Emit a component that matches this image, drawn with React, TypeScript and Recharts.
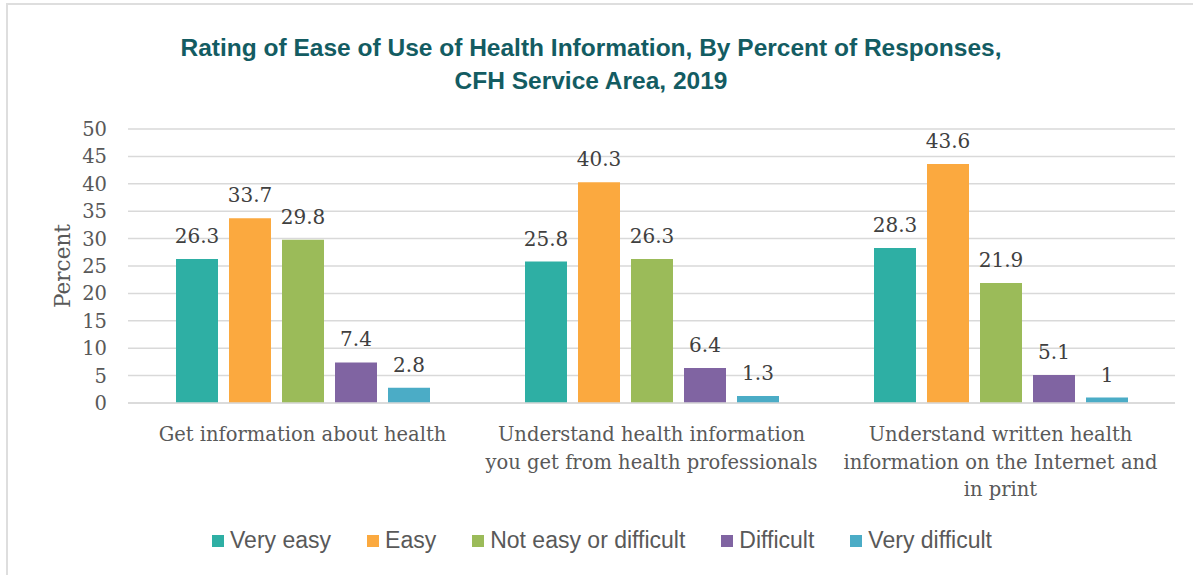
import React from "react";
import {
  BarChart,
  Bar,
  XAxis,
  YAxis,
  CartesianGrid,
  LabelList,
} from "recharts";

// categories, one entry per line of the wrapped axis label
const categoryLines: string[][] = [
  ["Get information about health"],
  ["Understand health information", "you get from health professionals"],
  ["Understand written health", "information on the Internet and", "in print"],
];
const categories = categoryLines.map((lines) => lines.join(" "));

const veryEasy = [26.3, 25.8, 28.3];
const easy = [33.7, 40.3, 43.6];
const notEasyOrDifficult = [29.8, 26.3, 21.9];
const difficult = [7.4, 6.4, 5.1];
const veryDifficult = [2.8, 1.3, 1];

const yTicks = [0, 5, 10, 15, 20, 25, 30, 35, 40, 45, 50];

const series = [
  { key: "veryEasy", name: "Very easy", color: "#2EAFA4" },
  { key: "easy", name: "Easy", color: "#FBA93F" },
  { key: "notEasy", name: "Not easy or difficult", color: "#9BBB59" },
  { key: "difficult", name: "Difficult", color: "#8064A2" },
  { key: "veryDifficult", name: "Very difficult", color: "#4BACC6" },
];

const data = categories.map((name, i) => ({
  name,
  veryEasy: veryEasy[i],
  easy: easy[i],
  notEasy: notEasyOrDifficult[i],
  difficult: difficult[i],
  veryDifficult: veryDifficult[i],
}));

const SERIF = "'DejaVu Serif', 'Liberation Serif', serif";
const SANS = "'Liberation Sans Narrow', 'Liberation Sans', sans-serif";

function CategoryTick(props: any) {
  const { x, y, payload } = props;
  const idx = categories.indexOf(payload.value);
  const lines = categoryLines[idx] || [payload.value];
  return (
    <text
      x={x}
      y={y}
      textAnchor="middle"
      fill="#595959"
      fontSize={19.5}
      fontFamily={SERIF}
    >
      {lines.map((line, i) => (
        <tspan key={i} x={x} dy={i === 0 ? 30 : 27.5}>
          {line}
        </tspan>
      ))}
    </text>
  );
}

export default function App() {
  return (
    <div
      style={{
        position: "absolute",
        left: 0,
        top: 0,
        width: 1193,
        height: 575,
        background: "#fff",
      }}
    >
      <div
        style={{
          position: "absolute",
          left: 6,
          top: 3,
          right: 0,
          bottom: 0,
          borderTop: "2px solid #dedede",
          borderLeft: "2px solid #dedede",
        }}
      />
      <div
        style={{
          position: "absolute",
          left: 0,
          top: 31,
          width: 1182,
          textAlign: "center",
          fontFamily: SANS,
          fontWeight: "bold",
          fontSize: 24.5,
          lineHeight: "33px",
          color: "#135C62",
        }}
      >
        Rating of Ease of Use of Health Information, By Percent of Responses,
        <br />
        CFH Service Area, 2019
      </div>

      <div style={{ position: "absolute", left: 0, top: 0 }}>
        <BarChart
          width={1193}
          height={575}
          data={data}
          margin={{ top: 129, right: 18, left: 68, bottom: 72 }}
          barSize={42}
          barGap={11}
        >
          <CartesianGrid
            vertical={false}
            stroke="#d9d9d9"
            strokeWidth={1.5}
          />
          <XAxis
            dataKey="name"
            height={100}
            tickLine={false}
            axisLine={{ stroke: "#d9d9d9", strokeWidth: 1.5 }}
            tick={<CategoryTick />}
            interval={0}
          />
          <YAxis
            width={60}
            domain={[0, 50]}
            ticks={yTicks}
            interval={0}
            tickLine={false}
            axisLine={false}
            tickMargin={15}
            tick={{ fill: "#595959", fontSize: 19.5, fontFamily: SERIF }}
            label={{
              content: (p: any) => {
                const vb = p.viewBox;
                const cy = vb.y + vb.height / 2;
                return (
                  <text
                    x={62}
                    y={cy}
                    transform={`rotate(-90, 62, ${cy})`}
                    textAnchor="middle"
                    dominantBaseline="central"
                    fill="#595959"
                    fontSize={21.5}
                    fontFamily={SERIF}
                  >
                    Percent
                  </text>
                );
              },
            }}
          />
          {series.map((s) => (
            <Bar
              key={s.key}
              dataKey={s.key}
              name={s.name}
              fill={s.color}
              isAnimationActive={false}
            >
              <LabelList
                dataKey={s.key}
                position="top"
                offset={16}
                fill="#404040"
                fontSize={20}
                fontFamily={SERIF}
              />
            </Bar>
          ))}
        </BarChart>
      </div>

      <div
        style={{
          position: "absolute",
          left: 0,
          top: 527,
          width: 1240,
          display: "flex",
          justifyContent: "center",
          fontFamily: SANS,
          fontSize: 23,
          color: "#595959",
        }}
      >
        {series.map((s) => (
          <div
            key={s.key}
            style={{
              display: "flex",
              alignItems: "center",
              marginRight: 36,
            }}
          >
            <span
              style={{
                display: "inline-block",
                width: 12,
                height: 12,
                background: s.color,
                marginRight: 6,
              }}
            />
            <span>{s.name}</span>
          </div>
        ))}
      </div>
    </div>
  );
}
